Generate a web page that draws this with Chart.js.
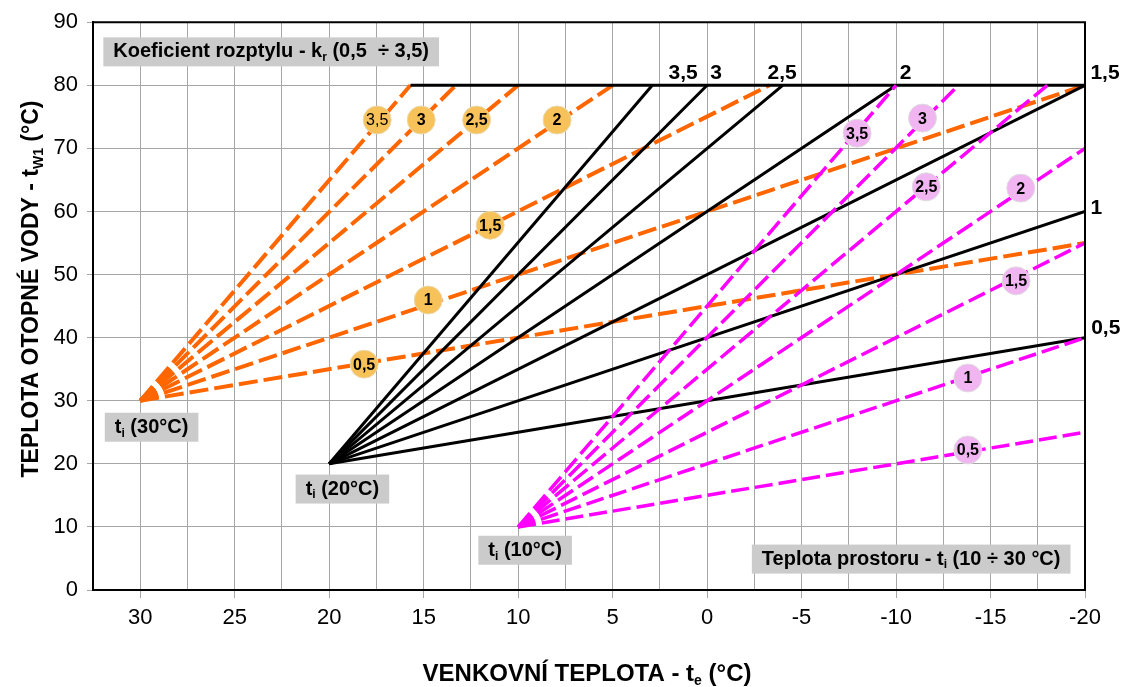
<!DOCTYPE html>
<html>
<head>
<meta charset="utf-8">
<script src="https://cdn.jsdelivr.net/npm/chart.js@4.4.1/dist/chart.umd.min.js"></script>
<style>
  body { margin: 0; background: #fff; }
  canvas { display: block; }
</style>
</head>
<body>
<canvas id="chart" width="1128" height="687"></canvas>
<script>
// heating curves: te (outdoor) -> tw1 (water), one line per kr
const krText = ['0,5', '1', '1,5', '2', '2,5', '3', '3,5'];

// ti = 30 °C (orange)
const orangeStart = [30, 30];
const orangeEndTe = [-20, -20, -3.3, 5, 10, 13.3, 15.7];
const orangeEndTw = [55, 80, 80, 80, 80, 80, 80];

// ti = 20 °C (black)
const blackStart = [20, 20];
const blackEndTe = [-20, -20, -20, -10, -4, 0, 2.9];
const blackEndTw = [40, 60, 80, 80, 80, 80, 80];

// ti = 10 °C (magenta)
const magentaStart = [10, 10];
const magentaEndTe = [-20, -20, -20, -20, -18, -13.3, -10];
const magentaEndTw = [25, 40, 55, 70, 80, 80, 80];

// max water temperature line
const capTe = [15.7, -20];
const capTw = [80, 80];

// kr bubbles on the lines
const orangeBubbleTe = [18.15, 14.76, 11.48, 7.94, 12.2, 15.13, 17.46];
const orangeBubbleTw = [35.8, 45.96, 57.8, 74.5, 74.5, 74.5, 74.5];
const magentaBubbleTe = [-13.8, -13.8, -16.35, -16.6, -11.6, -11.4, -7.94];
const magentaBubbleTw = [22.2, 33.6, 49, 63.7, 63.9, 74.8, 72.4];

// kr labels of the black lines
const blackLabelText = ['0,5', '1', '1,5', '2', '2,5', '3', '3,5'];
const blackLabelTe = [-21.1, -20.6, -21.06, -10.5, -3.97, -0.48, 1.27];
const blackLabelTw = [41.5, 60.5, 81.9, 81.9, 81.9, 81.9, 81.9];

// axes
const xMin = -20, xMax = 32.5, xStep = 2.5;
const yMin = 0, yMax = 90, yStep = 10;

const FONT = 'Arial, "Liberation Sans", sans-serif';

function curve(start, endTe, endTw, color, width, dash, order) {
  return endTe.map((te, i) => ({
    data: [{ x: start[0], y: start[1] }, { x: te, y: endTw[i] }],
    showLine: true,
    borderColor: color,
    borderWidth: width,
    borderDash: dash,
    borderCapStyle: 'butt',
    pointRadius: 0,
    fill: false,
    order: order
  }));
}

function bubbles(te, tw, fill, border, weights) {
  return {
    data: te.map((v, i) => ({ x: v, y: tw[i] })),
    showLine: false,
    pointRadius: 14,
    pointHoverRadius: 14,
    backgroundColor: fill,
    borderColor: border,
    borderWidth: 1,
    order: 0,
    bubbleText: krText,
    bubbleWeight: weights
  };
}

const datasets = [
  ...curve(orangeStart, orangeEndTe, orangeEndTw, '#FF6600', 4, [19, 6], 4),
  ...curve(blackStart, blackEndTe, blackEndTw, '#000000', 3, [], 3),
  ...curve(magentaStart, magentaEndTe, magentaEndTw, '#FF00FF', 3.5, [18, 6], 2),
  {
    data: capTe.map((v, i) => ({ x: v, y: capTw[i] })),
    showLine: true, borderColor: '#000', borderWidth: 3, pointRadius: 0, order: 3
  },
  bubbles(orangeBubbleTe, orangeBubbleTw, '#F7C25A', '#E9D9B0', ['bold', 'bold', 'bold', 'bold', 'bold', 'bold', 'normal']),
  bubbles(magentaBubbleTe, magentaBubbleTw, '#F1B6F1', '#DDDDDD', null)
];

// draw text with subscript parts: [[text, isSub], ...]
function richWidth(ctx, parts, size) {
  let w = 0;
  parts.forEach(([t, sub]) => {
    ctx.font = 'bold ' + (sub ? Math.round(size * 0.6) : size) + 'px ' + FONT;
    w += ctx.measureText(t).width;
  });
  return w;
}
function drawRich(ctx, parts, x, y, size) {
  // x = center, y = middle
  let cx = x - richWidth(ctx, parts, size) / 2;
  ctx.textAlign = 'left';
  ctx.textBaseline = 'middle';
  parts.forEach(([t, sub]) => {
    ctx.font = 'bold ' + (sub ? Math.round(size * 0.6) : size) + 'px ' + FONT;
    ctx.fillText(t, cx, sub ? y + size * 0.3 : y);
    cx += ctx.measureText(t).width;
  });
}

const boxes = [
  { te: 23.07, tw: 85.3, parts: [['Koeficient rozptylu - k', false], ['r', true], [' (0,5  ÷ 3,5)', false]] },
  { te: 29.4, tw: 25.8, parts: [['t', false], ['i', true], [' (30°C)', false]] },
  { te: 19.3, tw: 16.0, parts: [['t', false], ['i', true], [' (20°C)', false]] },
  { te: 9.63, tw: 6.3, parts: [['t', false], ['i', true], [' (10°C)', false]] },
  { te: -10.8, tw: 4.9, parts: [['Teplota prostoru - t', false], ['i', true], [' (10 ÷ 30 °C)', false]] }
];

const decor = {
  id: 'decor',
  afterDatasetsDraw(chart) {
    const ctx = chart.ctx;
    const xs = chart.scales.x, ys = chart.scales.y;
    const a = chart.chartArea;
    ctx.save();

    // frame
    ctx.strokeStyle = '#000';
    ctx.lineWidth = 2;
    ctx.beginPath();
    ctx.moveTo(a.left, a.top);
    ctx.lineTo(a.right, a.top);
    ctx.lineTo(a.right, a.bottom);
    ctx.stroke();

    // bubble numbers
    chart.data.datasets.forEach((ds, di) => {
      if (!ds.bubbleText) return;
      chart.getDatasetMeta(di).data.forEach((pt, i) => {
        const wt = ds.bubbleWeight ? ds.bubbleWeight[i] : 'bold';
        ctx.fillStyle = '#000';
        ctx.font = wt + ' 16px ' + FONT;
        ctx.textAlign = 'center';
        ctx.textBaseline = 'middle';
        ctx.fillText(ds.bubbleText[i], pt.x, pt.y + 1);
      });
    });

    // black line labels
    ctx.fillStyle = '#000';
    ctx.font = 'bold 21px ' + FONT;
    ctx.textAlign = 'center';
    ctx.textBaseline = 'middle';
    blackLabelText.forEach((t, i) => {
      ctx.fillText(t, xs.getPixelForValue(blackLabelTe[i]), ys.getPixelForValue(blackLabelTw[i]));
    });

    // grey boxes
    boxes.forEach(b => {
      const cx = xs.getPixelForValue(b.te), cy = ys.getPixelForValue(b.tw);
      const w = richWidth(ctx, b.parts, 20) + 20;
      const h = 29;
      ctx.fillStyle = '#CBCBCB';
      ctx.fillRect(cx - w / 2, cy - h / 2, w, h);
      ctx.fillStyle = '#000';
      drawRich(ctx, b.parts, cx, cy, 20);
    });

    // axis titles
    drawRich(ctx, [['VENKOVNÍ TEPLOTA - t', false], ['e', true], [' (°C)', false]], (a.left + a.right) / 2 - 2, 674, 24);
    ctx.translate(32, 289);
    ctx.rotate(-Math.PI / 2);
    drawRich(ctx, [['TEPLOTA OTOPNÉ VODY - t', false], ['W1', true], [' (°C)', false]], 0, 0, 23);
    ctx.restore();
  }
};

new Chart(document.getElementById('chart').getContext('2d'), {
  type: 'scatter',
  data: { datasets: datasets },
  options: {
    responsive: false,
    animation: false,
    layout: { padding: { left: 0, right: 43, top: 22, bottom: 0 } },
    plugins: { legend: { display: false }, tooltip: { enabled: false } },
    scales: {
      x: {
        type: 'linear',
        reverse: true,
        min: xMin,
        max: xMax,
        afterFit(s) { s.height = 97; },
        ticks: {
          stepSize: xStep,
          autoSkip: false,
          maxRotation: 0,
          padding: 7,
          color: '#000',
          font: { family: FONT, size: 22 },
          callback: v => (v % 5 === 0 && v <= 30) ? String(v) : ''
        },
        grid: {
          color: '#A6A6A6',
          lineWidth: 1,
          tickLength: 8,
          tickColor: c => (c.tick && c.tick.value % 5 === 0 && c.tick.value <= 30) ? '#A6A6A6' : 'rgba(0,0,0,0)'
        },
        border: { color: '#000', width: 2 }
      },
      y: {
        type: 'linear',
        min: yMin,
        max: yMax,
        afterFit(s) { s.width = 93; },
        ticks: {
          stepSize: yStep,
          padding: 9,
          color: '#000',
          font: { family: FONT, size: 22 }
        },
        grid: { color: '#A6A6A6', lineWidth: 1, tickLength: 6 },
        border: { color: '#000', width: 2 }
      }
    }
  },
  plugins: [decor]
});
</script>
</body>
</html>
